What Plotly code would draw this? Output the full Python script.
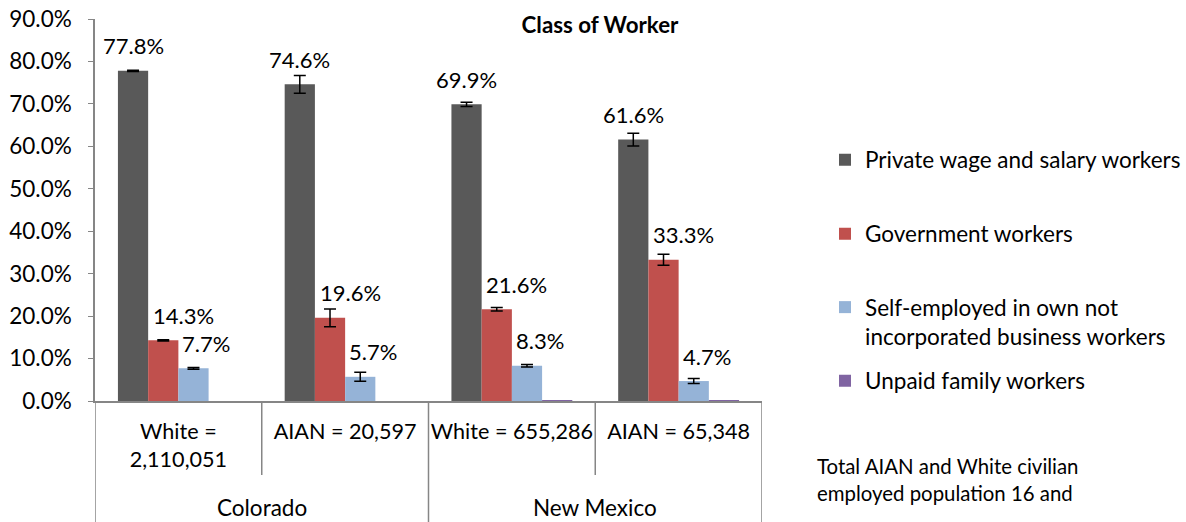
import plotly.graph_objects as go

# ---- data ----
groups = ["White =<br>2,110,051", "AIAN = 20,597", "White = 655,286", "AIAN = 65,348"]
states = ["Colorado", "New Mexico"]
series = ["Private wage and salary workers", "Government workers",
          "Self-employed in own not<br>incorporated business workers", "Unpaid family workers"]
private_vals = [0.778, 0.746, 0.699, 0.616]
private_err = [0.0015, 0.021, 0.005, 0.015]
gov_vals = [0.143, 0.196, 0.216, 0.333]
gov_err = [0.0015, 0.021, 0.004, 0.013]
self_vals = [0.077, 0.057, 0.083, 0.047]
self_err = [0.002, 0.0105, 0.003, 0.006]
unpaid_vals = [0.0, 0.0, 0.002, 0.002]
unpaid_err = [0.0, 0.0, 0.0, 0.0]
note = "Total AIAN and White civilian<br>employed population 16 and"

colors = ["#595959", "#C0504D", "#95B3D7", "#8064A2"]
FONT = "Lato"
fs = 22.5

W, H = 1186, 522
L, R, T, B = 95, 424, 19, 121
PW, PH = W - L - R, H - T - B

all_vals = [private_vals, gov_vals, self_vals, unpaid_vals]
all_errs = [private_err, gov_err, self_err, unpaid_err]
show_label = [True, True, True, False]
label_nudge = [0, 20, 13, 0]

bargap = 0.275
bw = (1 - bargap) / len(series)

fig = go.Figure()
xs = list(range(len(groups)))
for i, (name, vals, errs, col) in enumerate(zip(series, all_vals, all_errs, colors)):
    fig.add_trace(go.Bar(
        x=xs, y=vals, name=name, marker=dict(color=col, line=dict(width=0)),
        error_y=dict(type="data", array=errs, visible=any(e > 0 for e in errs),
                     color="black", thickness=1.5, width=6),
        legend=["legend", "legend2", "legend3", "legend4"][i],
    ))
    if show_label[i]:
        for j, v in enumerate(vals):
            fig.add_annotation(
                x=j + (i - 1.5) * bw, y=v, xref="x", yref="y",
                text=f"{v*100:.1f}%", showarrow=False,
                xshift=label_nudge[i], yshift=25, yanchor="middle",
                font=dict(family=FONT, size=fs - 0.5, color="black"))

# state labels
for k, s in enumerate(states):
    fig.add_annotation(x=2 * k + 0.5, y=-(507 - 401) / PH, xref="x", yref="paper", text=s,
                       showarrow=False, yanchor="middle",
                       font=dict(family=FONT, size=fs, color="black"))

# dividers
line = dict(color="#868686", width=1.5)
for xb in [-0.5, 1.5, 3.5]:
    fig.add_shape(type="line", x0=xb, x1=xb, y0=0, y1=-0.33, xref="x", yref="paper", line=line)
for xb in [0.5, 2.5]:
    fig.add_shape(type="line", x0=xb, x1=xb, y0=0, y1=-0.194, xref="x", yref="paper", line=line)

fig.add_annotation(x=(815 - L) / PW, y=-(479 - 401) / PH, xref="paper", yref="paper",
                   text=note, showarrow=False, xanchor="left", yanchor="middle", align="left",
                   font=dict(family=FONT, size=20.4, color="black"))

leg_y = [160, 234, 322, 381]
for i in range(4):
    key = ["legend", "legend2", "legend3", "legend4"][i]
    fig.update_layout({key: dict(x=825 / W, y=1 - leg_y[i] / H, xref="container", yref="container",
                                 xanchor="left", yanchor="middle",
                                 valign="top", bgcolor="rgba(0,0,0,0)",
                                 font=dict(family=FONT, size=fs, color="black"))})

fig.update_layout(
    width=W, height=H,
    margin=dict(l=L, r=R, t=T, b=B, autoexpand=False),
    paper_bgcolor="white", plot_bgcolor="white",
    barmode="group", bargap=bargap, bargroupgap=0,
    title=dict(text="<b>Class of Worker</b>", x=600 / W, xanchor="center",
               y=1 - 25 / H, yanchor="middle", yref="container",
               font=dict(family=FONT, size=22.3, color="black")),
    font=dict(family=FONT, size=fs, color="black"),
    showlegend=True,
)
fig.update_xaxes(tickmode="array", tickvals=xs, ticktext=groups, range=[-0.5, 3.5],
                 showline=True, linecolor="#868686", linewidth=1.5, ticks="",
                 showgrid=False, zeroline=False, ticklabelstandoff=10, automargin=False,
                 tickfont=dict(family=FONT, size=21.6, color="black"))
fig.update_yaxes(range=[0, 0.9], dtick=0.1, tickformat=".1%", showline=True,
                 linecolor="#868686", linewidth=1.5, ticks="outside", ticklen=5,
                 tickcolor="#868686", showgrid=False, zeroline=False,
                 ticklabelstandoff=12, automargin=False,
                 tickfont=dict(family=FONT, size=fs, color="black"))

fig.write_html("out.html", config={"displayModeBar": False},
               post_script="document.body.style.margin='0';document.body.style.overflow='hidden';")
